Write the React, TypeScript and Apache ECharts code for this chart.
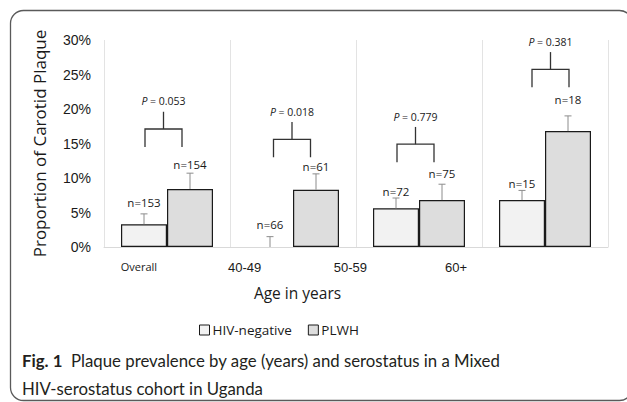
import React, { useEffect, useRef } from "react";
import * as echarts from "echarts";

const categories = ["Overall", "40-49", "50-59", "60+"];
const seriesNames = ["HIV-negative", "PLWH"];
const hivNeg = [3.3, 0, 5.6, 6.8];
const plwh = [8.4, 8.3, 6.8, 16.8];
const hivNegErrTop = [4.8, 1.5, 7.1, 8.2];
const plwhErrTop = [10.7, 10.6, 9.1, 19.0];
const hivNegN = ["n=153", "n=66", "n=72", "n=15"];
const plwhN = ["n=154", "n=61", "n=75", "n=18"];
const hivNegNLabelAt = [6.4, 3.3, 8.0, 9.2];
const plwhNLabelAt = [12.0, 11.6, 10.7, 21.4];
const pValues = ["0.053", "0.018", "0.779", "0.381"];
const bracketLevel = [17.1, 15.6, 14.9, 25.75];
const bracketShift = [-3.5, -1, -3.5, 5.5];
const yTicks = [0, 5, 10, 15, 20, 25, 30];

const BAR_W = 46;
const NEG_COLOR = "#f2f2f2";
const POS_COLOR = "#dddddd";
const EDGE = "#1a1a1a";
const OPEN = "'Open Sans', sans-serif";
const ARIAL = "'Liberation Sans', Arial, sans-serif";
const CAPTION = "Lato, sans-serif";

export default function App() {
  const ref = useRef<HTMLDivElement>(null);
  useEffect(() => {
    if (!ref.current) return;
    const chart = echarts.init(ref.current, null, { renderer: "svg" });

    const errData: any[] = [];
    categories.forEach((_, i) => {
      errData.push([i, hivNeg[i], hivNegErrTop[i], -1, hivNegNLabelAt[i], hivNegN[i]]);
      errData.push([i, plwh[i], plwhErrTop[i], 1, plwhNLabelAt[i], plwhN[i]]);
    });
    const bracketData = categories.map((_, i) => [i, bracketLevel[i], bracketShift[i], pValues[i]]);

    const barData = (arr: number[]) =>
      arr.map((v) => (v === 0 ? { value: v, itemStyle: { borderWidth: 0 } } : v));

    chart.setOption({
      animation: false,
      grid: [
        { left: 104, top: 40, width: 504, height: 207 },
        { left: 86, top: 40, width: 423, height: 207 },
      ],
      legend: {
        data: seriesNames,
        left: 194,
        top: 318,
        icon: "rect",
        itemWidth: 10,
        itemHeight: 10,
        itemGap: 16,
        itemStyle: { borderWidth: 1 },
        textStyle: { fontFamily: OPEN, fontSize: 13.5, color: "#1a1a1a", padding: [0, 0, 0, -2] },
      },
      xAxis: [
        {
          type: "category",
          data: categories,
          gridIndex: 0,
          axisLine: { show: true, lineStyle: { color: "#d9d9d9", width: 1 } },
          axisTick: { show: false },
          axisLabel: { show: false },
          splitLine: { show: true, lineStyle: { color: "#e3e3e3", width: 1 } },
        },
        {
          type: "category",
          data: categories,
          gridIndex: 1,
          axisLine: { show: false },
          axisTick: { show: false },
          axisLabel: {
            margin: 14,
            formatter: (v: string) => (v === "Overall" ? `{s|${v}}` : `{b|${v}}`),
            rich: {
              s: { fontFamily: OPEN, fontSize: 11, color: "#1a1a1a", padding: [0, 0, 4, 0] },
              b: { fontFamily: ARIAL, fontSize: 13, color: "#1a1a1a" },
            },
          },
          name: "Age in years",
          nameLocation: "middle",
          nameGap: 38,
          nameTextStyle: { fontFamily: OPEN, fontSize: 15.5, color: "#1a1a1a" },
        },
      ],
      yAxis: [
        {
          type: "value",
          gridIndex: 0,
          min: 0,
          max: 30,
          interval: 5,
          axisLine: { show: false },
          axisTick: { show: false },
          splitLine: { show: false },
          axisLabel: {
            margin: 13,
            formatter: (v: number) => (yTicks.includes(v) ? `${v}%` : ""),
            fontFamily: ARIAL,
            fontSize: 14,
            color: "#1a1a1a",
          },
          name: "Proportion of Carotid Plaque",
          nameLocation: "middle",
          nameGap: 56,
          nameTextStyle: { fontFamily: OPEN, fontSize: 17, color: "#1a1a1a" },
        },
        { type: "value", gridIndex: 1, show: false, min: 0, max: 30 },
      ],
      series: [
        {
          name: seriesNames[0],
          type: "bar",
          data: barData(hivNeg),
          barWidth: BAR_W,
          barGap: "0%",
          itemStyle: { color: NEG_COLOR, borderColor: EDGE, borderWidth: 1.2 },
          z: 2,
        },
        {
          name: seriesNames[1],
          type: "bar",
          data: barData(plwh),
          barWidth: BAR_W,
          barGap: "0%",
          itemStyle: { color: POS_COLOR, borderColor: EDGE, borderWidth: 1.2 },
          z: 2,
        },
        {
          type: "custom",
          data: errData,
          z: 3,
          silent: true,
          renderItem: (params: any, api: any) => {
            const cat = api.value(0);
            const base = api.coord([cat, api.value(1)]);
            const top = api.coord([cat, api.value(2)]);
            const lab = api.coord([cat, api.value(4)]);
            const sign = api.value(3);
            const x = base[0] + sign * (BAR_W / 2);
            const label = errData[params.dataIndex][5];
            return {
              type: "group",
              children: [
                {
                  type: "line",
                  shape: { x1: x, y1: base[1], x2: x, y2: top[1] },
                  style: { stroke: "#8c8c8c", lineWidth: 1 },
                },
                {
                  type: "line",
                  shape: { x1: x - 3.5, y1: top[1], x2: x + 3.5, y2: top[1] },
                  style: { stroke: "#8c8c8c", lineWidth: 1 },
                },
                {
                  type: "text",
                  x: x,
                  y: lab[1],
                  style: {
                    text: label,
                    fontFamily: OPEN,
                    fontSize: 11.5,
                    fill: "#1a1a1a",
                    align: "center",
                    verticalAlign: "middle",
                  },
                },
              ],
            };
          },
        },
        {
          type: "custom",
          data: bracketData,
          z: 3,
          silent: true,
          renderItem: (params: any, api: any) => {
            const cat = api.value(0);
            const lvl = api.value(1);
            const shift = api.value(2);
            const mid = api.coord([cat, lvl]);
            const legs = api.coord([cat, lvl - 2.6]);
            const stem = api.coord([cat, lvl + 2.5]);
            const lab = api.coord([cat, lvl + 4.0]);
            const cx = mid[0] + shift;
            const hw = 18.5;
            const p = bracketData[params.dataIndex][3];
            return {
              type: "group",
              children: [
                {
                  type: "polyline",
                  shape: { points: [[cx - hw, legs[1]], [cx - hw, mid[1]], [cx + hw, mid[1]], [cx + hw, legs[1]]] },
                  style: { stroke: "#333", lineWidth: 1.3, fill: "none" },
                },
                {
                  type: "line",
                  shape: { x1: cx, y1: mid[1], x2: cx, y2: stem[1] },
                  style: { stroke: "#333", lineWidth: 1.3 },
                },
                {
                  type: "text",
                  x: cx,
                  y: lab[1],
                  style: {
                    text: `{i|P} = ${p}`,
                    rich: {
                      i: { fontStyle: "italic", fontFamily: OPEN, fontSize: 10.5, fill: "#1a1a1a" },
                    },
                    fontFamily: OPEN,
                    fontSize: 10.5,
                    fill: "#1a1a1a",
                    align: "center",
                    verticalAlign: "middle",
                  },
                },
              ],
            };
          },
        },
      ],
      graphic: [
        {
          type: "rect",
          shape: { x: 10.5, y: 10.5, width: 622, height: 390, r: 13 },
          style: { fill: "none", stroke: "#5a5a5a", lineWidth: 1.3 },
          silent: true,
        },
        {
          type: "text",
          left: 22,
          top: 346,
          style: {
            text: "{b|Fig. 1}  Plaque prevalence by age (years) and serostatus in a Mixed\nHIV-serostatus cohort in Uganda",
            rich: {
              b: { fontWeight: "bold", fontFamily: CAPTION, fontSize: 16.8, fill: "#231f20" },
            },
            fontFamily: CAPTION,
            fontSize: 16.8,
            lineHeight: 28,
            fill: "#231f20",
          },
        },
      ],
    });
    return () => chart.dispose();
  }, []);
  return <div ref={ref} style={{ width: 627, height: 402, position: "absolute", left: 0, top: 0 }} />;
}
